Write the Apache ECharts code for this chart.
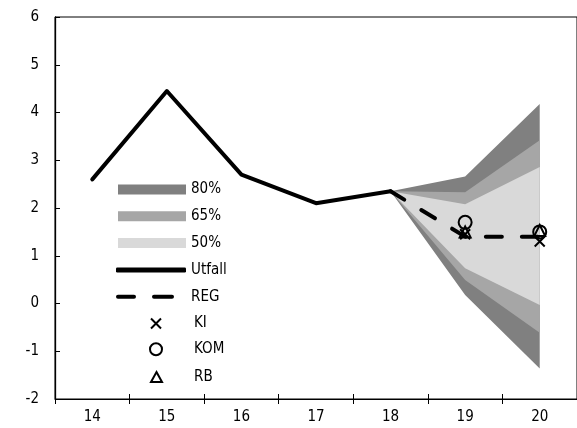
<!DOCTYPE html>
<html>
<head>
<meta charset="utf-8">
<script src="https://cdn.jsdelivr.net/npm/echarts@6/dist/echarts.min.js"></script>
<style>
html,body{margin:0;padding:0;background:#fff;}
#c{width:577px;height:428px;}
</style>
</head>
<body>
<div id="c"></div>
<script>
// ---- data ----
const years = ['14', '15', '16', '17', '18', '19', '20'];
const yearNum = [14, 15, 16, 17, 18, 19, 20];
const utfall = [2.6, 4.45, 2.7, 2.1, 2.35, null, null];
const reg = [null, null, null, null, 2.35, 1.4, 1.4];
const bandYears = [18, 19, 20];
const lo80 = [2.35, 0.18, -1.36];
const lo65 = [2.35, 0.49, -0.61];
const lo50 = [2.35, 0.74, -0.03];
const hi50 = [2.35, 2.08, 2.86];
const hi65 = [2.35, 2.33, 3.42];
const hi80 = [2.35, 2.66, 4.18];
const markerYears = [19, 20];
const ki = [1.45, 1.3];
const kom = [1.7, 1.5];
const rb = [1.5, 1.53];
const yTicks = [-2, -1, 0, 1, 2, 3, 4, 5, 6];
const legendNames = ['80%', '65%', '50%', 'Utfall', 'REG', 'KI', 'KOM', 'RB'];

// ---- font pick (narrowest installed family) ----
function hasFont(name) {
  const cv = document.createElement('canvas').getContext('2d');
  const s = 'Utfall KOM 0123456789%';
  cv.font = '16px monospace'; const a = cv.measureText(s).width;
  cv.font = '16px "' + name + '", monospace'; const b = cv.measureText(s).width;
  cv.font = '16px serif'; const c = cv.measureText(s).width;
  cv.font = '16px "' + name + '", serif'; const d = cv.measureText(s).width;
  return a !== b || c !== d;
}
const candidates = ['Liberation Sans Narrow', 'DejaVu Sans Condensed', 'Liberation Sans'];
const picked = candidates.find(hasFont) || 'sans-serif';
const FONT = '"' + picked + '", sans-serif';
const FS = 15;

// ---- build ----
const C80 = '#808080', C65 = '#a6a6a6', C50 = '#d9d9d9';
const pair = (xs, ys) => xs.map((x, i) => [x, ys[i]]);

function fan(name, lo, hi, color, z) {
  return {
    name: name, type: 'custom', xAxisIndex: 1, silent: true, z: z,
    color: color, itemStyle: { color: color },
    data: bandYears.map((x, i) => [x, lo[i], hi[i]]),
    renderItem: function (params, api) {
      if (params.dataIndex !== 0) return null;
      const pts = [];
      for (let i = 0; i < bandYears.length; i++) pts.push(api.coord([bandYears[i], hi[i]]));
      for (let i = bandYears.length - 1; i >= 0; i--) pts.push(api.coord([bandYears[i], lo[i]]));
      return { type: 'polygon', shape: { points: pts }, style: { fill: color, stroke: null } };
    }
  };
}

const series = [
  fan('80%', lo80, hi80, C80, 1),
  fan('65%', lo65, hi65, C65, 1.1),
  fan('50%', lo50, hi50, C50, 1.2),
  { name: 'Utfall', type: 'line', xAxisIndex: 1, data: pair(yearNum, utfall), symbol: 'none',
    color: '#000', lineStyle: { color: '#000', width: 4, cap: 'round', join: 'round' }, z: 3 },
  { name: 'REG', type: 'line', xAxisIndex: 1, data: pair(yearNum, reg), symbol: 'none',
    color: '#000', lineStyle: { color: '#000', width: 4, type: [16, 20], cap: 'round' }, z: 3 },
  { name: 'KI', type: 'scatter', xAxisIndex: 1, data: pair(markerYears, ki),
    symbol: 'path://M0,0L10,10M10,0L0,10', symbolSize: 10, z: 4,
    itemStyle: { color: 'none', borderColor: '#000', borderWidth: 2, opacity: 1 } },
  { name: 'KOM', type: 'scatter', xAxisIndex: 1, data: pair(markerYears, kom),
    symbol: 'circle', symbolSize: 13, z: 4,
    itemStyle: { color: 'rgba(0,0,0,0)', borderColor: '#000', borderWidth: 2, opacity: 1 } },
  { name: 'RB', type: 'scatter', xAxisIndex: 1, data: pair(markerYears, rb),
    symbol: 'triangle', symbolSize: 11, z: 4,
    itemStyle: { color: 'rgba(0,0,0,0)', borderColor: '#000', borderWidth: 2, opacity: 1 } }
];

// one legend per entry so every row sits where the reference puts it
const legendTop0 = 182, legendStep = 26.8;
const legendStyle = {
  '80%': { left: 118, itemWidth: 68, itemHeight: 10, icon: 'rect', pad: 0 },
  '65%': { left: 118, itemWidth: 68, itemHeight: 10, icon: 'rect', pad: 0 },
  '50%': { left: 118, itemWidth: 68, itemHeight: 10, icon: 'rect', pad: 0 },
  'Utfall': { left: 116, itemWidth: 70, itemHeight: 5, icon: 'roundRect', pad: 0 },
  'REG': { left: 116, itemWidth: 58, itemHeight: 5, icon: 'path://M2,0h16a2,2 0 0 1 0,4h-16a2,2 0 0 1 0,-4zM38,0h18a2,2 0 0 1 0,4h-18a2,2 0 0 1 0,-4z', pad: 12 },
  'KI': { left: 150, itemWidth: 10, itemHeight: 10, icon: 'path://M0,0L10,10M10,0L0,10', pad: 28 },
  'KOM': { left: 149, itemWidth: 12, itemHeight: 12, icon: 'circle', pad: 27 },
  'RB': { left: 150, itemWidth: 11, itemHeight: 10, icon: 'triangle', pad: 27 }
};
const legends = legendNames.map((n, i) => {
  const s = legendStyle[n];
  const isMarker = ['KI', 'KOM', 'RB'].includes(n);
  return {
    show: true, orient: 'vertical', left: s.left, top: legendTop0 + i * legendStep - (s.itemHeight > 10 ? 1 : 0),
    itemWidth: s.itemWidth, itemHeight: s.itemHeight, selectedMode: false, padding: 0,
    textStyle: { fontFamily: FONT, fontSize: FS, color: '#000', padding: [0, 0, 0, s.pad] },
    data: [{ name: n, icon: s.icon,
      itemStyle: isMarker ? { color: 'rgba(0,0,0,0)', borderColor: '#000', borderWidth: 2 } : undefined }]
  };
});

const option = {
  animation: false,
  backgroundColor: '#fff',
  textStyle: { fontFamily: FONT },
  grid: { left: 55, top: 17, width: 526, height: 382, show: true, borderColor: '#000', borderWidth: 1, backgroundColor: 'transparent' },
  legend: legends,
  xAxis: [
    { type: 'category', data: years, boundaryGap: true,
      axisLine: { show: true, onZero: false, lineStyle: { color: '#000', width: 1 } },
      axisTick: { show: true, inside: false, length: 5, lineStyle: { color: '#000' } },
      axisLabel: { fontFamily: FONT, fontSize: FS, color: '#000', margin: 11 },
      splitLine: { show: false } },
    { type: 'value', min: 13.5, max: 20.5, show: false, axisLine: { onZero: false } },
    { type: 'category', data: years, boundaryGap: true, position: 'bottom',
      axisLine: { show: false, onZero: false },
      axisTick: { show: true, inside: true, length: 5, lineStyle: { color: '#000' } },
      axisLabel: { show: false }, splitLine: { show: false } }
  ],
  yAxis: {
    type: 'value', min: yTicks[0], max: yTicks[yTicks.length - 1], interval: 1,
    axisLine: { show: true, onZero: false, lineStyle: { color: '#000', width: 1.3 } },
    axisTick: { show: true, inside: true, length: 5, lineStyle: { color: '#000' } },
    axisLabel: { fontFamily: FONT, fontSize: FS, color: '#000', margin: 16 },
    splitLine: { show: false }
  },
  series: series
};

const chart = echarts.init(document.getElementById('c'), null, { renderer: 'canvas' });
chart.setOption(option);
</script>
</body>
</html>
